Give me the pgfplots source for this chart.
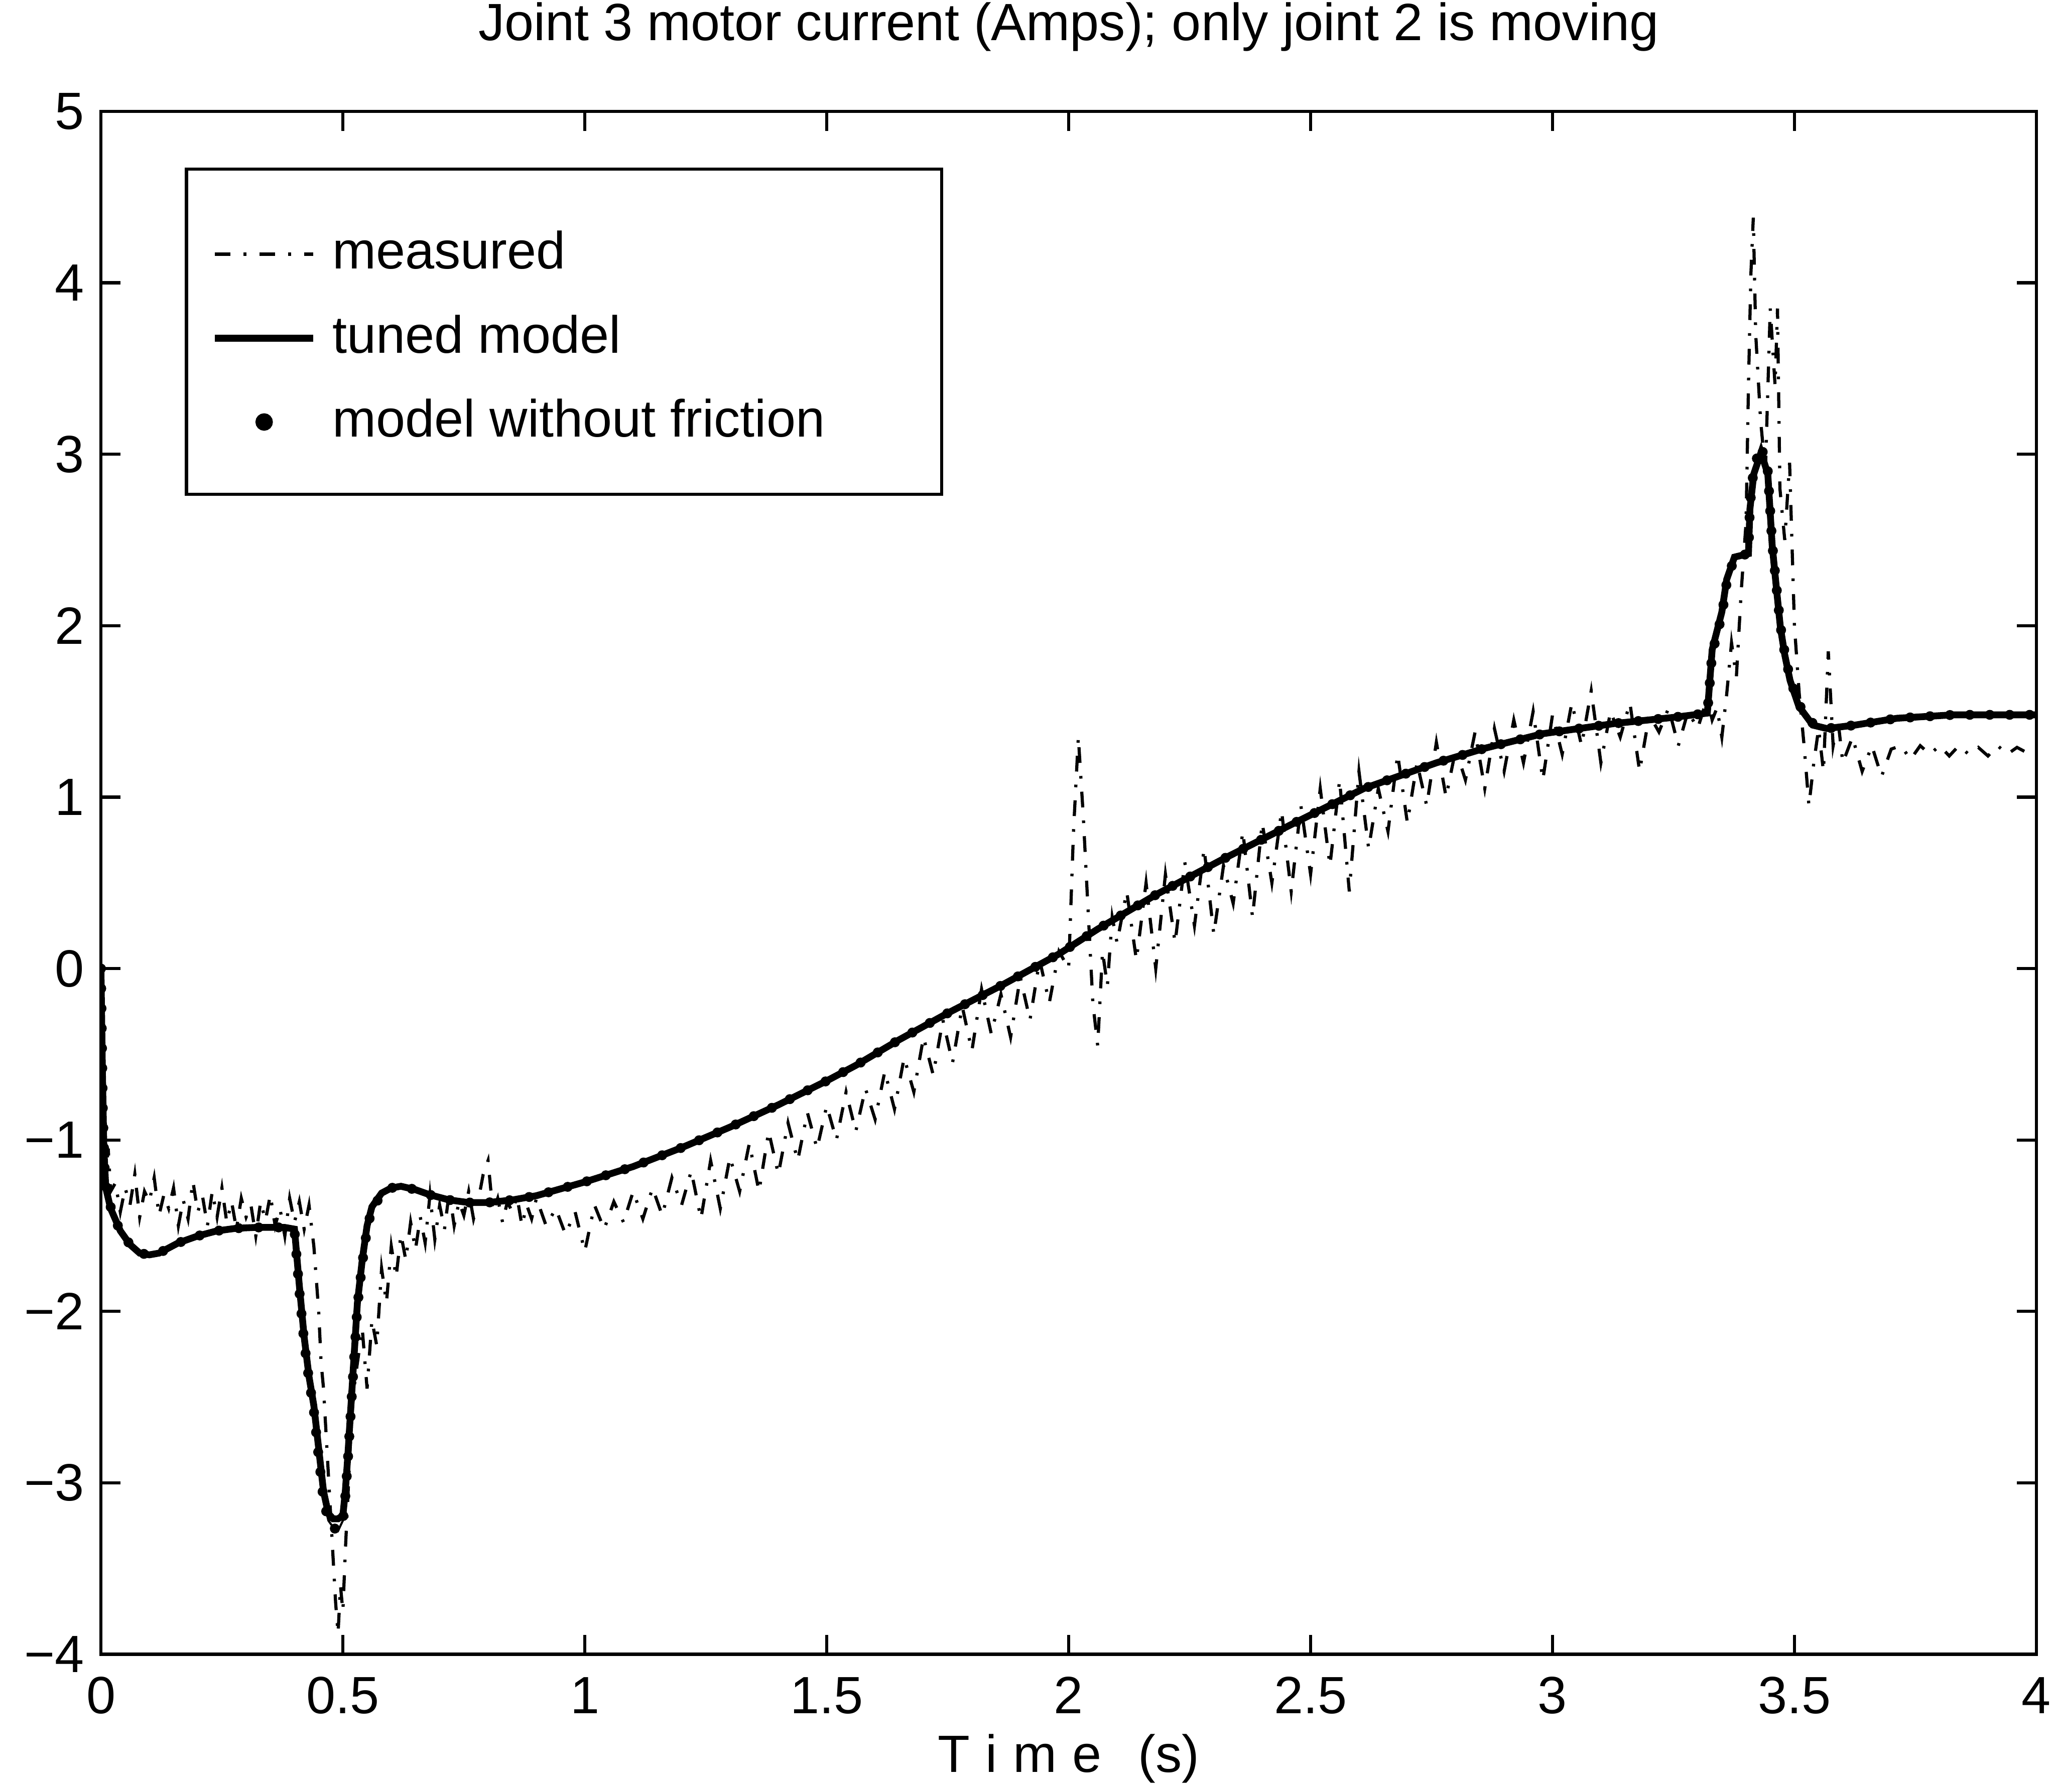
\documentclass[border=0pt]{standalone}
\usepackage{fontspec}
\setmainfont{Liberation Sans}
\usepackage{pgfplots}
\pgfplotsset{compat=1.18}
\usepackage{pgfplotstable}
\usetikzlibrary{calc}

\pgfplotsset{
  lineleg/.style={legend image code/.code={\draw[##1] (0pt,-1.2pt) -- (18.75pt,-1.2pt);}},
  dotleg/.style={legend image code/.code={\fill[black,solid] (9.4pt,-1.2pt) circle (0.7pt);}},
}

\pgfplotstableread{
t y
0.000 0.00
0.005 -0.90
0.010 -1.20
0.015 -1.05
0.020 -1.30
0.030 -1.25
0.040 -1.42
0.050 -1.28
0.060 -1.38
0.070 -1.20
0.080 -1.45
0.090 -1.30
0.100 -1.36
0.110 -1.22
0.120 -1.44
0.130 -1.32
0.140 -1.40
0.150 -1.28
0.160 -1.50
0.170 -1.35
0.180 -1.46
0.190 -1.24
0.200 -1.42
0.210 -1.33
0.220 -1.50
0.230 -1.30
0.240 -1.45
0.250 -1.28
0.260 -1.48
0.270 -1.36
0.280 -1.52
0.290 -1.34
0.300 -1.45
0.310 -1.38
0.320 -1.56
0.330 -1.36
0.340 -1.47
0.350 -1.32
0.360 -1.50
0.370 -1.40
0.380 -1.56
0.390 -1.34
0.400 -1.48
0.410 -1.36
0.420 -1.52
0.430 -1.38
0.440 -1.62
0.450 -2.00
0.455 -2.30
0.460 -2.45
0.465 -2.70
0.470 -2.95
0.475 -3.20
0.480 -3.45
0.485 -3.70
0.490 -3.88
0.495 -3.60
0.500 -3.75
0.505 -3.40
0.510 -3.10
0.515 -2.80
0.520 -2.55
0.525 -2.40
0.530 -2.30
0.540 -2.10
0.550 -2.45
0.560 -2.05
0.570 -2.20
0.580 -1.75
0.590 -1.95
0.600 -1.62
0.610 -1.80
0.620 -1.55
0.630 -1.70
0.640 -1.48
0.650 -1.64
0.660 -1.45
0.670 -1.60
0.680 -1.32
0.690 -1.58
0.700 -1.38
0.710 -1.52
0.720 -1.30
0.730 -1.50
0.740 -1.36
0.750 -1.44
0.760 -1.30
0.770 -1.46
0.780 -1.35
0.790 -1.20
0.800 -1.12
0.810 -1.42
0.820 -1.34
0.830 -1.48
0.840 -1.36
0.850 -1.42
0.860 -1.33
0.870 -1.50
0.880 -1.38
0.890 -1.46
0.900 -1.34
0.920 -1.50
0.940 -1.40
0.960 -1.55
0.980 -1.42
1.000 -1.65
1.020 -1.38
1.040 -1.52
1.060 -1.36
1.080 -1.48
1.100 -1.30
1.120 -1.46
1.140 -1.28
1.160 -1.44
1.180 -1.22
1.200 -1.38
1.220 -1.18
1.240 -1.46
1.260 -1.12
1.280 -1.40
1.300 -1.10
1.320 -1.30
1.340 -1.02
1.360 -1.30
1.380 -0.95
1.400 -1.20
1.420 -0.90
1.440 -1.12
1.460 -0.84
1.480 -1.05
1.500 -0.80
1.520 -1.00
1.540 -0.72
1.560 -0.95
1.580 -0.70
1.600 -0.88
1.620 -0.60
1.640 -0.82
1.660 -0.52
1.680 -0.72
1.700 -0.40
1.720 -0.62
1.740 -0.30
1.760 -0.55
1.780 -0.22
1.800 -0.48
1.820 -0.12
1.840 -0.38
1.860 -0.15
1.880 -0.40
1.900 -0.05
1.920 -0.30
1.940 0.05
1.960 -0.20
1.980 0.10
2.000 0.00
2.010 0.80
2.020 1.35
2.030 0.90
2.040 0.35
2.050 -0.20
2.060 -0.45
2.070 0.10
2.080 -0.10
2.090 0.30
2.100 0.15
2.120 0.45
2.140 0.05
2.160 0.50
2.180 0.00
2.200 0.55
2.220 0.15
2.240 0.62
2.260 0.25
2.280 0.70
2.300 0.20
2.320 0.60
2.340 0.38
2.360 0.80
2.380 0.30
2.400 0.85
2.420 0.50
2.440 0.92
2.460 0.45
2.480 0.95
2.500 0.55
2.520 1.05
2.540 0.60
2.560 1.10
2.580 0.45
2.600 1.15
2.620 0.70
2.640 1.05
2.660 0.80
2.680 1.25
2.700 0.85
2.720 1.20
2.740 0.95
2.760 1.32
2.780 1.00
2.800 1.28
2.820 1.10
2.840 1.38
2.860 1.05
2.880 1.40
2.900 1.15
2.920 1.45
2.940 1.20
2.960 1.50
2.980 1.10
3.000 1.48
3.020 1.25
3.040 1.55
3.060 1.30
3.080 1.62
3.100 1.20
3.120 1.50
3.140 1.35
3.160 1.55
3.180 1.15
3.200 1.48
3.220 1.38
3.240 1.52
3.260 1.30
3.280 1.50
3.300 1.40
3.320 1.58
3.330 1.45
3.340 1.52
3.350 1.35
3.360 1.60
3.370 1.90
3.380 1.70
3.390 2.20
3.400 2.60
3.405 3.40
3.410 4.05
3.415 4.38
3.420 3.70
3.430 3.20
3.440 2.90
3.450 3.85
3.460 3.40
3.465 3.85
3.470 2.80
3.480 2.50
3.490 2.95
3.500 2.00
3.510 1.60
3.520 1.30
3.530 0.95
3.540 1.20
3.550 1.40
3.560 1.15
3.570 1.85
3.580 1.30
3.590 1.45
3.600 1.20
3.620 1.35
3.640 1.15
3.660 1.30
3.680 1.12
3.700 1.28
3.720 1.30
3.740 1.22
3.760 1.30
3.780 1.25
3.800 1.30
3.820 1.24
3.840 1.30
3.860 1.25
3.880 1.29
3.900 1.24
3.920 1.30
3.940 1.25
3.960 1.29
3.980 1.26
4.000 1.28
}\measured

\pgfplotstableread{
t y
0.000 0.00
0.003 -0.60
0.006 -1.05
0.010 -1.28
0.020 -1.40
0.040 -1.53
0.060 -1.61
0.080 -1.66
0.100 -1.67
0.120 -1.66
0.140 -1.63
0.160 -1.60
0.200 -1.56
0.240 -1.53
0.280 -1.515
0.320 -1.51
0.380 -1.51
0.400 -1.52
0.410 -1.85
0.420 -2.15
0.430 -2.38
0.440 -2.55
0.450 -2.80
0.460 -3.05
0.470 -3.18
0.480 -3.21
0.490 -3.21
0.500 -3.19
0.505 -3.05
0.510 -2.85
0.520 -2.40
0.530 -1.95
0.540 -1.70
0.550 -1.50
0.560 -1.39
0.580 -1.31
0.600 -1.28
0.620 -1.27
0.650 -1.29
0.680 -1.32
0.720 -1.35
0.760 -1.365
0.800 -1.365
0.850 -1.35
0.900 -1.325
0.950 -1.285
1.000 -1.245
1.100 -1.155
1.200 -1.045
1.300 -0.925
1.400 -0.795
1.500 -0.655
1.560 -0.565
1.650 -0.415
1.750 -0.26
1.860 -0.10
1.980 0.085
2.060 0.23
2.180 0.43
2.320 0.64
2.460 0.84
2.610 1.05
2.760 1.20
2.860 1.285
2.980 1.37
3.130 1.43
3.250 1.465
3.320 1.49
3.330 1.86
3.350 2.08
3.360 2.27
3.376 2.40
3.405 2.42
3.408 2.68
3.416 2.885
3.431 3.01
3.445 2.885
3.454 2.47
3.462 2.24
3.471 1.99
3.480 1.83
3.491 1.68
3.509 1.53
3.538 1.42
3.567 1.40
3.625 1.42
3.712 1.46
3.828 1.48
4.000 1.48
}\tuned

\pgfplotstableread{
t y
0.000 0.00
0.004 -0.85
0.008 -1.20
0.015 -1.34
0.025 -1.44
0.040 -1.53
0.060 -1.61
0.080 -1.66
0.100 -1.67
0.120 -1.66
0.140 -1.63
0.160 -1.60
0.200 -1.56
0.240 -1.53
0.280 -1.515
0.320 -1.51
0.380 -1.51
0.400 -1.53
0.410 -1.88
0.420 -2.18
0.430 -2.40
0.440 -2.58
0.450 -2.85
0.460 -3.10
0.470 -3.22
0.480 -3.26
0.490 -3.28
0.500 -3.22
0.505 -3.08
0.510 -2.88
0.520 -2.42
0.530 -1.97
0.540 -1.72
0.550 -1.52
0.560 -1.40
0.580 -1.32
0.600 -1.28
0.620 -1.27
0.650 -1.29
0.680 -1.32
0.720 -1.35
0.760 -1.365
0.800 -1.365
0.850 -1.35
0.900 -1.325
0.950 -1.285
1.000 -1.245
1.100 -1.155
1.200 -1.045
1.300 -0.925
1.400 -0.795
1.500 -0.655
1.560 -0.565
1.650 -0.415
1.750 -0.26
1.860 -0.10
1.980 0.085
2.060 0.23
2.180 0.43
2.320 0.64
2.460 0.84
2.610 1.05
2.760 1.20
2.860 1.285
2.980 1.37
3.130 1.43
3.250 1.465
3.320 1.49
3.330 1.84
3.350 2.06
3.360 2.25
3.376 2.40
3.405 2.42
3.408 2.70
3.416 2.92
3.431 3.05
3.445 2.90
3.454 2.48
3.462 2.25
3.471 2.00
3.480 1.84
3.491 1.69
3.509 1.54
3.538 1.43
3.567 1.40
3.625 1.42
3.712 1.46
3.828 1.48
4.000 1.48
}\nofric

\begin{document}
\begin{tikzpicture}
\begin{axis}[
  scale only axis,
  width=369pt, height=294.25pt,
  xmin=0, xmax=4, ymin=-4, ymax=5,
  xtick={0,0.5,1,1.5,2,2.5,3,3.5,4},
  xticklabels={0,0.5,1,1.5,2,2.5,3,3.5,4},
  ytick={-4,-3,-2,-1,0,1,2,3,4,5},
  yticklabels={−4,−3,−2,−1,0,1,2,3,4,5},
  tick align=inside, tick pos=both,
  major tick length=3.7pt,
  every tick/.append style={line width=0.6pt, black},
  axis line style={line width=0.6pt},
  font=\fontsize{10}{12}\selectfont,
  xticklabel style={anchor=base, yshift=-11.25pt, inner sep=0pt},
  yticklabel style={inner sep=0pt, xshift=-3pt},
  title={Joint 3 motor current (Amps); only joint 2 is moving},
  title style={at={(0.5,1)}, anchor=base, yshift=7.5pt, inner sep=0pt},
  xlabel={T\hspace{3pt}i\hspace{3pt}m\hspace{3pt}e\hspace{7pt}(s)},
  xlabel style={at={(axis description cs:0.5,0)}, anchor=base, yshift=-22.5pt, inner sep=0pt},
  legend cell align=left,
  legend style={at={(0.0434,0.9635)}, anchor=north west, draw=black, line width=0.6pt,
    inner xsep=4.75pt, inner ysep=10.5pt, row sep=7pt, column sep=3pt,
    nodes={inner sep=0pt, text height=8.5pt, text depth=0.5pt},
    font=\fontsize{10}{12}\selectfont},
]
\coordinate (fsw) at (rel axis cs:0,0);
\coordinate (fne) at (rel axis cs:1,1);

\addplot[black, line width=0.6pt, dash pattern=on 3pt off 2.5pt on 0.5pt off 2.5pt, lineleg]
  table[x=t,y=y] {\measured};
\addlegendentry{measured}

\addplot[black, line width=1.3pt, lineleg]
  table[x=t,y=y] {\tuned};
\addlegendentry{tuned model}

\addplot[black, line width=0.4pt, forget plot] table[x=t,y=y] {\nofric};

\addplot[black, line width=1.9pt, line cap=round, dash pattern=on 0pt off 3.8pt, dotleg]
  table[x=t,y=y] {\nofric};
\addlegendentry{model without friction\hspace*{17.5pt}}
\end{axis}
\pgfresetboundingbox
\path ($(fsw)+(-19.25pt,-26.25pt)$) rectangle ($(fne)+(3.75pt,21.25pt)$);
\end{tikzpicture}
\end{document}
